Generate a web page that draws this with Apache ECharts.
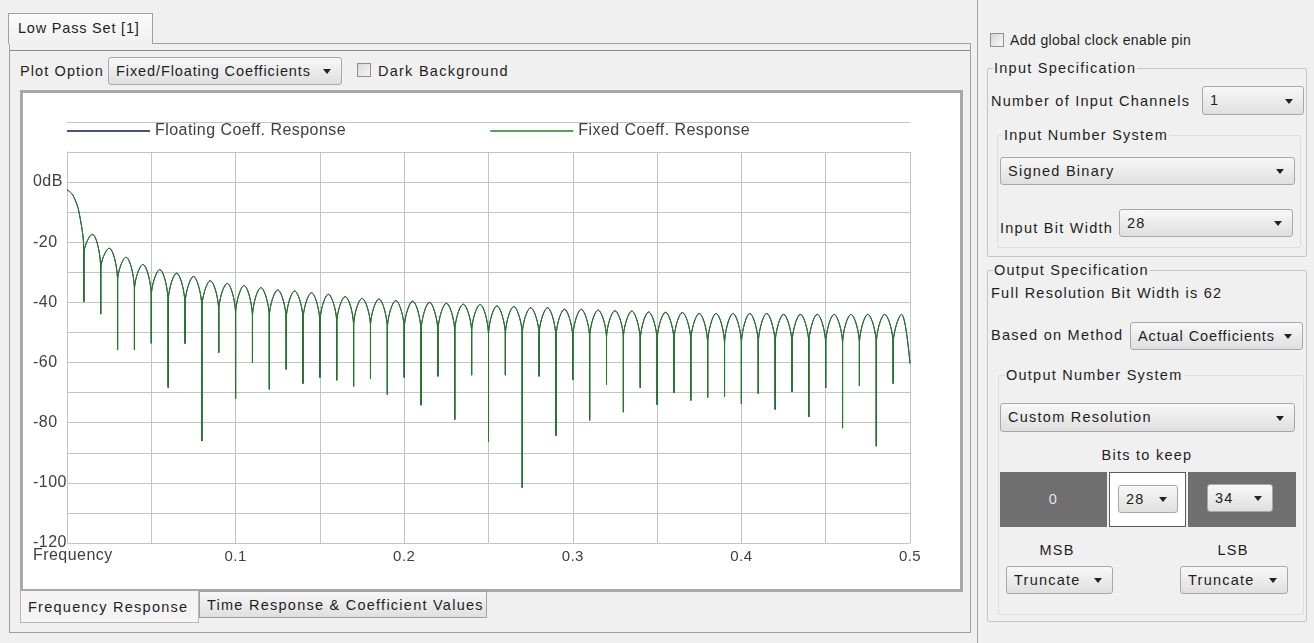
<!DOCTYPE html>
<html>
<head>
<meta charset="utf-8">
<title>Low Pass Set [1]</title>
<script src="https://cdn.jsdelivr.net/npm/echarts@6/dist/echarts.min.js"></script>
<style>
body { margin:0; width:1314px; height:643px; background:#f0f0f0; position:relative; overflow:hidden;
  font-family:"Liberation Sans", Arial, sans-serif; font-size:14.5px; letter-spacing:1.25px; color:#1e1e1e; }
.abs { position:absolute; box-sizing:border-box; }
.t { position:absolute; white-space:nowrap; line-height:18px; height:18px; }
.c { text-align:center; }
.dd { position:absolute; box-sizing:border-box; border:1px solid #a8a8a8; border-radius:3px;
  background:linear-gradient(#f8f8f8,#dfdfdf); white-space:nowrap; padding-left:7px; }
.dd:after { content:""; position:absolute; right:10px; top:50%; margin-top:-2px;
  border-left:4px solid transparent; border-right:4px solid transparent; border-top:5px solid #222; }
.box { position:absolute; box-sizing:border-box; border:1px solid #c6c6c6; border-radius:2px; }
.ttl { position:absolute; background:#f0f0f0; padding:0 1px; line-height:18px; white-space:nowrap; }
.chk { position:absolute; width:14px; height:14px; box-sizing:border-box; border:1px solid #8e8f8f;
  background:linear-gradient(135deg,#d6d6d6,#f8f8f8); }
#plot { letter-spacing:0.45px; }
</style>
</head>
<body>

<!-- left pane -->
<div class="abs" style="left:9px;top:43px;width:962px;height:590px;border:1px solid #a0a0a0;"></div>
<div class="abs" style="left:10px;top:50px;width:960px;height:1px;background:#8c8c8c;"></div>
<div class="abs" style="left:8px;top:13px;width:145px;height:31px;border:1px solid #a0a0a0;border-bottom:none;background:linear-gradient(#fbfbfb,#f0f0f0);"></div>
<div class="t" style="left:18px;top:19px;letter-spacing:0.8px;">Low Pass Set [1]</div>

<div class="t" style="left:20px;top:62px;letter-spacing:1.1px;">Plot Option</div>
<div class="dd" style="left:108px;top:57px;width:234px;height:28px;line-height:26px;letter-spacing:0.9px;">Fixed/Floating Coefficients</div>
<div class="chk" style="left:357px;top:63px;"></div>
<div class="t" style="left:378px;top:62px;">Dark Background</div>

<div class="abs" style="left:20px;top:90px;width:943px;height:502px;border:3px solid #a8a8a8;background:#fff;"></div>
<div id="plot" class="abs" style="left:23px;top:93px;width:937px;height:496px;"></div>

<div class="abs" style="left:20px;top:591px;width:179px;height:32px;border:1px solid #b8b8b8;border-top:none;background:#f4f4f4;"></div>
<div class="t" style="left:28px;top:598px;">Frequency Response</div>
<div class="abs" style="left:199px;top:591px;width:288px;height:27px;border:1px solid #a0a0a0;background:linear-gradient(#f6f6f6,#e0e0e0);"></div>
<div class="t" style="left:207px;top:596px;">Time Response &amp; Coefficient Values</div>

<!-- right pane -->
<div class="abs" style="left:977px;top:0;width:1px;height:643px;background:#a5a5a5;"></div>
<div class="chk" style="left:990px;top:33px;"></div>
<div class="t" style="left:1010px;top:31px;font-size:14px;letter-spacing:0.4px;">Add global clock enable pin</div>

<div class="box" style="left:987px;top:68px;width:320px;height:189px;"></div>
<div class="ttl" style="left:993px;top:59px;">Input Specification</div>
<div class="t" style="left:991px;top:92px;">Number of Input Channels</div>
<div class="dd" style="left:1202px;top:86px;width:102px;height:29px;line-height:27px;">1</div>
<div class="box" style="left:997px;top:135px;width:304px;height:113px;border-color:#dedede;"></div>
<div class="ttl" style="left:1003px;top:126px;">Input Number System</div>
<div class="dd" style="left:1000px;top:157px;width:295px;height:28px;line-height:26px;">Signed Binary</div>
<div class="t" style="left:1000px;top:219px;">Input Bit Width</div>
<div class="dd" style="left:1119px;top:209px;width:174px;height:28px;line-height:26px;">28</div>

<div class="box" style="left:987px;top:270px;width:320px;height:352px;"></div>
<div class="ttl" style="left:993px;top:261px;">Output Specification</div>
<div class="t" style="left:991px;top:284px;">Full Resolution Bit Width is 62</div>
<div class="t" style="left:991px;top:326px;">Based on Method</div>
<div class="dd" style="left:1130px;top:322px;width:173px;height:28px;line-height:26px;letter-spacing:0.9px;">Actual Coefficients</div>
<div class="box" style="left:998px;top:375px;width:306px;height:240px;border-color:#dedede;"></div>
<div class="ttl" style="left:1005px;top:366px;">Output Number System</div>
<div class="dd" style="left:1000px;top:403px;width:295px;height:29px;line-height:27px;">Custom Resolution</div>
<div class="t c" style="left:1087px;top:446px;width:120px;">Bits to keep</div>
<div class="abs" style="left:1000px;top:472px;width:107px;height:55px;background:#6f6f6f;"></div>
<div class="t c" style="left:1000px;top:490px;width:107px;color:#e6e6e6;">0</div>
<div class="abs" style="left:1109px;top:472px;width:77px;height:55px;background:#fff;border:1px solid #5a5a5a;"></div>
<div class="dd" style="left:1118px;top:485px;width:60px;height:28px;line-height:26px;">28</div>
<div class="abs" style="left:1188px;top:472px;width:108px;height:55px;background:#6f6f6f;"></div>
<div class="dd" style="left:1207px;top:484px;width:66px;height:28px;line-height:26px;">34</div>
<div class="t c" style="left:1017px;top:541px;width:80px;">MSB</div>
<div class="t c" style="left:1193px;top:541px;width:80px;">LSB</div>
<div class="dd" style="left:1006px;top:566px;width:107px;height:28px;line-height:26px;">Truncate</div>
<div class="dd" style="left:1180px;top:566px;width:108px;height:28px;line-height:26px;">Truncate</div>

<script>
// values (dB vs normalised frequency)
var mainLobeFreq = [0, 0.0035, 0.0073];
var mainLobeLevel = [-2.5, -4.4, -10.5];

var nullFreq = [0.010, 0.020, 0.030, 0.040, 0.050, 0.060, 0.070, 0.080, 0.090, 0.100,
    0.110, 0.120, 0.130, 0.140, 0.150, 0.160, 0.170, 0.180, 0.190, 0.200,
    0.210, 0.220, 0.230, 0.240, 0.250, 0.260, 0.270, 0.280, 0.290, 0.300,
    0.310, 0.320, 0.330, 0.340, 0.350, 0.360, 0.370, 0.380, 0.390, 0.400,
    0.410, 0.420, 0.430, 0.440, 0.450, 0.460, 0.470, 0.480, 0.490];
var nullDepth = [-39.8, -43.9, -55.8, -55.8, -53.6, -68.3, -53.7, -86.1, -56.7, -72.0,
    -60.0, -68.9, -62.3, -67.0, -65.0, -65.9, -67.9, -65.3, -70.6, -65.0,
    -74.2, -64.6, -79.0, -64.2, -86.4, -64.2, -101.6, -64.6, -84.3, -65.8,
    -79.2, -67.3, -76.5, -68.4, -74.0, -70.0, -72.6, -71.6, -71.4, -73.7,
    -70.3, -75.6, -69.8, -78.1, -68.4, -81.8, -67.8, -87.8, -67.0];
// level where two neighbouring lobes meet, above each null
var shoulderLevel = [-24, -29, -33, -36, -38, -40, -41, -42, -43, -44,
    -45, -45, -46, -46, -47, -47, -48, -48, -49, -49,
    -50, -50, -50, -50, -51, -51, -51, -51, -52, -52,
    -52, -52, -52, -53, -53, -53, -53, -54, -54, -54,
    -54, -54, -54, -54, -54, -54, -54, -54, -54];
var peakFreq = [0.015, 0.025, 0.035, 0.045, 0.055, 0.065, 0.075, 0.085, 0.095, 0.105,
    0.115, 0.125, 0.135, 0.145, 0.155, 0.165, 0.175, 0.185, 0.195, 0.205,
    0.215, 0.225, 0.235, 0.245, 0.255, 0.265, 0.275, 0.285, 0.295, 0.305,
    0.315, 0.325, 0.335, 0.345, 0.355, 0.365, 0.375, 0.385, 0.395, 0.405,
    0.415, 0.425, 0.435, 0.445, 0.455, 0.465, 0.475, 0.485, 0.495];
var peakLevel = [-17.4, -22.0, -25.0, -27.4, -29.1, -30.3, -31.4, -32.8, -33.7, -34.4,
    -35.1, -35.9, -36.2, -36.8, -37.3, -38.1, -38.7, -38.9, -39.4, -39.6,
    -40.0, -40.3, -40.6, -40.7, -41.2, -41.4, -41.8, -41.8, -42.3, -42.3,
    -42.6, -42.8, -42.9, -43.2, -43.3, -43.4, -43.7, -43.7, -43.7, -43.7,
    -43.7, -44.0, -44.0, -44.0, -44.0, -44.0, -44.0, -44.0, -44.0];
var tailFreq = [0.5];
var tailLevel = [-60.3];

var seriesNames = ["Floating Coeff. Response", "Fixed Coeff. Response"];
var seriesColors = ["#141450", "#1f801f"];
var xLabelValues = [0.1, 0.2, 0.3, 0.4, 0.5];
var xLabels = ["0.1", "0.2", "0.3", "0.4", "0.5"];
var yLabelValues = [0, -20, -40, -60, -80, -100, -120];
var yLabels = ["0dB", "-20", "-40", "-60", "-80", "-100", "-120"];

function buildResponse() {
    var pts = [];
    for (var i = 0; i < mainLobeFreq.length; i++) {
        pts.push([mainLobeFreq[i], mainLobeLevel[i]]);
    }
    for (var k = 0; k < nullFreq.length; k++) {
        pts.push([nullFreq[k], shoulderLevel[k]]);
        pts.push([nullFreq[k], nullDepth[k]]);
        pts.push([nullFreq[k], shoulderLevel[k]]);
        pts.push([peakFreq[k], peakLevel[k]]);
    }
    for (var j = 0; j < tailFreq.length; j++) {
        pts.push([tailFreq[j], tailLevel[j]]);
    }
    return pts;
}

var response = buildResponse();
var myChart = echarts.init(document.getElementById("plot"));
var gridColor = "#c4c4c4";
var textColor = "#404040";
var chartFont = "Liberation Sans";

var option = {
    animation: false,
    textStyle: {fontFamily: chartFont},
    grid: {left: 44, right: 50, top: 59, bottom: 46},
    legend: {
        left: 44, top: 30, padding: 0,
        itemWidth: 83, itemHeight: 1.5, itemGap: 155,
        icon: "rect",
        data: seriesNames,
        textStyle: {fontSize: 16, color: textColor, fontFamily: chartFont},
        selectedMode: false
    },
    xAxis: {
        type: "value", min: 0, max: 0.5, interval: 0.05,
        axisLine: {show: true, lineStyle: {color: gridColor}},
        axisTick: {show: false},
        splitLine: {show: true, lineStyle: {color: gridColor, width: 1}},
        axisLabel: {
            margin: 6, fontSize: 15, color: textColor, fontFamily: chartFont,
            formatter: function (v) {
                for (var i = 0; i < xLabelValues.length; i++) {
                    if (Math.abs(v - xLabelValues[i]) < 1e-6) return xLabels[i];
                }
                return "";
            }
        }
    },
    yAxis: {
        type: "value", min: -120, max: 10, interval: 10,
        axisLine: {show: true, lineStyle: {color: gridColor}},
        axisTick: {show: false},
        splitLine: {show: true, lineStyle: {color: gridColor, width: 1}},
        axisLabel: {
            margin: 34, align: "left", fontSize: 16, color: textColor, fontFamily: chartFont,
            formatter: function (v) {
                var idx = yLabelValues.indexOf(Math.round(v));
                return idx >= 0 ? yLabels[idx] : "";
            }
        }
    },
    graphic: [
        {type: "line", silent: true, shape: {x1: 44, y1: 29.5, x2: 887, y2: 29.5},
            style: {stroke: gridColor, lineWidth: 1}},
        {type: "text", left: 10, top: 455, silent: true,
            style: {text: "Frequency", fontSize: 16, fill: textColor, fontFamily: chartFont}}
    ],
    series: [
        {
            name: seriesNames[0], type: "line", data: response,
            smooth: 0.4, showSymbol: false, silent: true,
            lineStyle: {color: seriesColors[0], width: 1},
            itemStyle: {color: seriesColors[0]}
        },
        {
            name: seriesNames[1], type: "line", data: response,
            smooth: 0.4, showSymbol: false, silent: true,
            lineStyle: {color: seriesColors[1], width: 1},
            itemStyle: {color: seriesColors[1]}
        }
    ]
};
myChart.setOption(option);
</script>
</body>
</html>
